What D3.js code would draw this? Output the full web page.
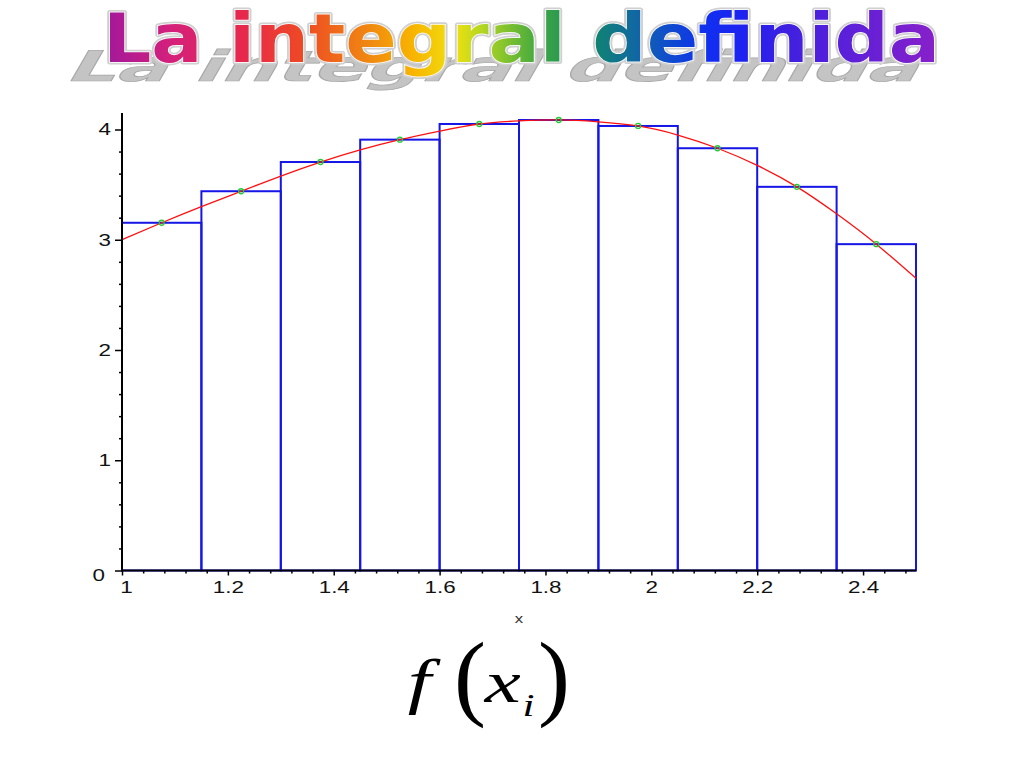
<!DOCTYPE html>
<html>
<head>
<meta charset="utf-8">
<script src="https://cdn.jsdelivr.net/npm/d3@7"></script>
<style>
  html, body { margin: 0; padding: 0; background: #fff; }
  svg { display: block; }
</style>
</head>
<body>
<svg id="chart" width="1024" height="768"></svg>
<script>
// ---------- data ----------
const titleText = "La integral definida";
const xLabel = "x";
// partition edges of the Riemann sum
const edges = [1.0, 1.15, 1.3, 1.45, 1.6, 1.75, 1.9, 2.05, 2.2, 2.35, 2.5];
// sample points x_i (midpoints) and rectangle heights f(x_i)
const sampleX = [1.075, 1.225, 1.375, 1.525, 1.675, 1.825, 1.975, 2.125, 2.275, 2.425];
const barHeights = [3.154, 3.44, 3.705, 3.908, 4.05, 4.086, 4.032, 3.83, 3.48, 2.96];
// curve
const curveX = [1.0, 1.075, 1.15, 1.225, 1.3, 1.375, 1.45, 1.525, 1.6, 1.675, 1.75, 1.825, 1.9, 1.975, 2.05, 2.125, 2.2, 2.275, 2.35, 2.425, 2.5];
const curveY = [3.0, 3.154, 3.30, 3.44, 3.578, 3.705, 3.815, 3.908, 3.985, 4.05, 4.078, 4.087, 4.07, 4.032, 3.95, 3.83, 3.675, 3.48, 3.235, 2.96, 2.65];
const xMajorTicks = [1, 1.2, 1.4, 1.6, 1.8, 2, 2.2, 2.4];
const yMajorTicks = [0, 1, 2, 3, 4];
const xMinorTicks = [1.04,1.08,1.12,1.16,1.24,1.28,1.32,1.36,1.44,1.48,1.52,1.56,1.64,1.68,1.72,1.76,1.84,1.88,1.92,1.96,2.04,2.08,2.12,2.16,2.24,2.28,2.32,2.36,2.44,2.48];
const yMinorTicks = [0.2,0.4,0.6,0.8,1.2,1.4,1.6,1.8,2.2,2.4,2.6,2.8,3.2,3.4,3.6,3.8];
const titleColors = ["#a0189c","#d4207c","#e8284a","#ee4a24","#f08a10","#f8b400","#f0e010","#b8d820","#40a840","#108868","#106c9c","#1050c8","#1030f0","#2020f0","#4020e0","#6020d8","#8a20c8"];
const titleStops  = [0.0, 0.08, 0.17, 0.24, 0.32, 0.37, 0.42, 0.45, 0.52, 0.58, 0.63, 0.67, 0.72, 0.77, 0.82, 0.9, 1.0];

// ---------- drawing ----------
const svg = d3.select("#chart");
const x = d3.scaleLinear().domain([1, 2.5]).range([122, 916]);
const y = d3.scaleLinear().domain([0, 4]).range([570.5, 129.5]);
const stretch = 1.4; // horizontal stretch of the picture's lettering

// Title gradient
const defs = svg.append("defs");
const grad = defs.append("linearGradient")
  .attr("id", "rainbow").attr("gradientUnits", "userSpaceOnUse")
  .attr("x1", 103).attr("x2", 940).attr("y1", 0).attr("y2", 0);
titleStops.forEach((s, i) => grad.append("stop").attr("offset", s).attr("stop-color", titleColors[i]));

// Title shadow (perspective-like)
const sh = svg.append("g").attr("transform", "translate(64,81) skewX(-30) scale(1,0.62)");
sh.append("text")
  .attr("x", 0).attr("y", 0)
  .attr("textLength", 852).attr("lengthAdjust", "spacingAndGlyphs")
  .style("font-family", "'DejaVu Sans', sans-serif").style("font-weight", "bold").style("font-size", "68px")
  .attr("fill", "#c4c4c4").attr("stroke", "#a8a8a8").attr("stroke-width", 1.2)
  .text(titleText);

// Title main
const tg = svg.append("g");
tg.append("text")
  .attr("x", 103).attr("y", 62)
  .attr("textLength", 837).attr("lengthAdjust", "spacingAndGlyphs")
  .style("font-family", "'DejaVu Sans', sans-serif").style("font-weight", "bold").style("font-size", "68px")
  .attr("fill", "none").attr("stroke", "#d0d0d0").attr("stroke-width", 5).attr("stroke-linejoin", "round")
  .text(titleText);
tg.append("text")
  .attr("x", 103).attr("y", 62)
  .attr("textLength", 837).attr("lengthAdjust", "spacingAndGlyphs")
  .style("font-family", "'DejaVu Sans', sans-serif").style("font-weight", "bold").style("font-size", "68px")
  .attr("fill", "url(#rainbow)").attr("stroke", "#ffffff").attr("stroke-width", 1.5).attr("paint-order", "stroke")
  .text(titleText);

// Rectangles
const bars = edges.slice(0, -1).map((e, i) => ({ x0: e, x1: edges[i + 1], h: barHeights[i] }));
svg.append("g").selectAll("rect").data(bars).join("rect")
  .attr("x", d => x(d.x0)).attr("width", d => x(d.x1) - x(d.x0))
  .attr("y", d => y(d.h)).attr("height", d => y(0) - y(d.h))
  .attr("fill", "none").attr("stroke", "#1515e6").attr("stroke-width", 2);

// Curve
const pts = curveX.map((v, i) => [v, curveY[i]]);
svg.append("path").datum(pts)
  .attr("d", d3.line().x(d => x(d[0])).y(d => y(d[1])).curve(d3.curveNatural))
  .attr("fill", "none").attr("stroke", "#ff1010").attr("stroke-width", 1.3);

// Sample points
svg.append("g").selectAll("circle").data(sampleX.map((v, i) => [v, barHeights[i]])).join("circle")
  .attr("cx", d => x(d[0])).attr("cy", d => y(d[1])).attr("r", 2.5)
  .attr("fill", "none").attr("stroke", "#22cc33").attr("stroke-width", 1.3);

// Axes
const axFont = "'Liberation Sans', Arial, sans-serif";
const xAxis = svg.append("g").attr("transform", `translate(0,${y(0)})`)
  .call(d3.axisBottom(x).tickValues(xMajorTicks).tickFormat(d3.format("")).tickSize(5).tickPadding(6));
xAxis.select(".domain").remove();
xAxis.selectAll("line").attr("stroke", "#000").attr("stroke-width", 1.5);
xAxis.selectAll("text").style("font-family", axFont).style("font-size", "16px").attr("fill", "#111")
  .attr("x", d => d === 1 ? 4 / stretch : 0)
  .attr("transform", `scale(${stretch},1)`);
const xMinor = svg.append("g").attr("transform", `translate(0,${y(0)})`)
  .call(d3.axisBottom(x).tickValues(xMinorTicks).tickFormat("").tickSize(3));
xMinor.select(".domain").remove();
xMinor.selectAll("line").attr("stroke", "#000").attr("stroke-width", 1.5);

const yAxis = svg.append("g").attr("transform", `translate(${x(1)},0)`)
  .call(d3.axisLeft(y).tickValues(yMajorTicks).tickFormat(d3.format("")).tickSize(7).tickPadding(4));
yAxis.select(".domain").remove();
yAxis.selectAll("line").attr("stroke", "#000").attr("stroke-width", 1.5);
yAxis.selectAll("text").style("font-family", axFont).style("font-size", "16px").attr("fill", "#111")
  .attr("x", d => d === 0 ? -17 / stretch : -11 / stretch)
  .attr("dy", d => d === 0 ? "0.6em" : "0.34em")
  .attr("transform", `scale(${stretch},1)`);
const yMinor = svg.append("g").attr("transform", `translate(${x(1)},0)`)
  .call(d3.axisLeft(y).tickValues(yMinorTicks).tickFormat("").tickSize(3));
yMinor.select(".domain").remove();
yMinor.selectAll("line").attr("stroke", "#000").attr("stroke-width", 1.5);

// axis lines
svg.append("line").attr("x1", x(1)).attr("x2", x(2.5)).attr("y1", y(0)).attr("y2", y(0))
  .attr("stroke", "#000").attr("stroke-width", 2);
svg.append("line").attr("x1", x(1)).attr("x2", x(1)).attr("y1", y(0)).attr("y2", y(4.15))
  .attr("stroke", "#000").attr("stroke-width", 2);

// x label
svg.append("g").attr("transform", `translate(${x(1.75)},623) scale(${stretch},1)`)
  .append("text").attr("x", 0).attr("y", 0).attr("text-anchor", "middle")
  .style("font-family", axFont).style("font-size", "12px").attr("fill", "#333").text(xLabel);

// f(x_i)
const serif = "'Liberation Serif', 'Times New Roman', serif";
const fx = svg.append("g").attr("transform", "translate(405,0) scale(1.35,1)");
fx.append("text").attr("x", 2).attr("y", 702).style("font-family", serif).style("font-style", "italic")
  .style("font-size", "62px").attr("fill", "#000").text("f");
fx.append("text").attr("x", 59).attr("y", 702).style("font-family", serif).style("font-style", "italic")
  .style("font-size", "60px").attr("fill", "#000").text("x");
fx.append("text").attr("x", 87).attr("y", 716).style("font-family", serif).style("font-style", "italic")
  .style("font-size", "32px").attr("fill", "#000").text("i");
svg.append("text").attr("x", 454).attr("y", 708).style("font-family", serif)
  .style("font-size", "96px").attr("fill", "#000").text("(");
svg.append("text").attr("x", 538).attr("y", 708).style("font-family", serif)
  .style("font-size", "96px").attr("fill", "#000").text(")");
</script>
</body>
</html>
